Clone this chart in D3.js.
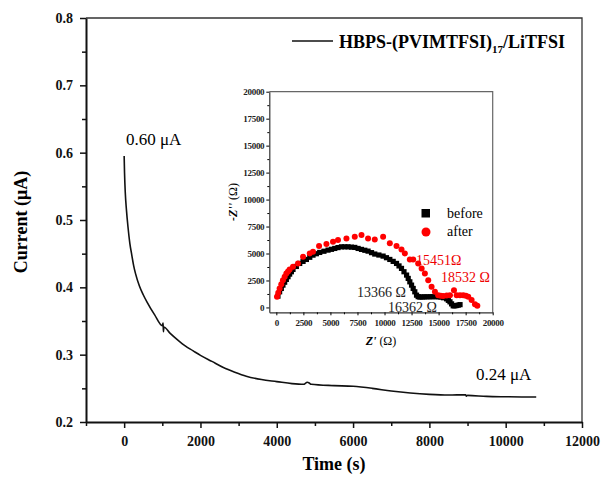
<!DOCTYPE html>
<html>
<head>
<meta charset="utf-8">
<title>chronoamperometry</title>
<script src="https://cdn.jsdelivr.net/npm/d3@7"></script>
<style>
  body { margin: 0; background: #fff; }
  text { font-family: "Liberation Serif", "Times New Roman", serif; }
</style>
</head>
<body>
<script>
// main curve: time (s) vs current (uA)
var time = [0, 10, 30, 60, 100, 150, 200, 250, 300, 400, 500, 600, 800, 1000, 1020, 1030, 1040, 1200, 1400, 1600, 1800, 2000,
  2300, 2600, 2900, 3200, 3600, 4000, 4400, 4700, 4800, 4850, 4900, 5500, 6000, 6500, 7000, 7500, 8000, 8500, 8950, 8970, 9000,
  9500, 10000, 10500, 10800];
var current = [0.595, 0.57, 0.54, 0.515, 0.49, 0.465, 0.448, 0.432, 0.42, 0.402, 0.389, 0.378, 0.359, 0.343, 0.347, 0.334, 0.341,
  0.332, 0.322, 0.313, 0.306, 0.299, 0.29, 0.281, 0.274, 0.268, 0.263, 0.26, 0.257, 0.256, 0.259, 0.258, 0.256, 0.254, 0.253,
  0.25, 0.246, 0.243, 0.241, 0.24, 0.2405, 0.2385, 0.2395, 0.238, 0.2375, 0.2372, 0.2372];

// inset: impedance before / after
var beforeRe = [150, 305, 460, 610, 770, 925, 1080, 1230, 1390, 1540, 1850, 2160, 2470, 2780, 3090, 3390, 3700, 4010, 4400, 4780,
  5100, 5400, 5700, 6020, 6330, 6630, 6940, 7250, 7560, 7870, 8180, 8480, 8800, 9100, 9480, 9870, 10180, 10490, 10800, 11110,
  11340, 11570, 11800, 12040, 12190, 12340, 12500, 12650, 12800, 12960, 13110, 13270, 13500, 13700, 13950, 14200, 14450, 14700,
  14950, 15200, 15450, 15740, 15900, 16050, 16200, 16350, 16500, 16650, 16810, 16980];
var beforeIm = [1050, 1450, 1760, 2070, 2340, 2600, 2850, 3090, 3310, 3525, 3800, 4080, 4270, 4450, 4650, 4850, 4980, 5100, 5210,
  5315, 5390, 5470, 5550, 5620, 5620, 5620, 5590, 5565, 5470, 5380, 5300, 5220, 5080, 4950, 4860, 4760, 4610, 4450, 4270, 4080,
  3850, 3620, 3310, 3000, 2690, 2375, 2070, 1760, 1450, 1140, 1000, 960, 970, 980, 985, 990, 995, 1000, 990, 960, 900, 800, 660,
  520, 330, 150, 150, 180, 210, 260];
var afterRe = [60, 180, 305, 460, 610, 770, 925, 1080, 1230, 1540, 2000, 2470, 3090, 3390, 3950, 4630, 5240, 5700, 6480, 7250,
  7870, 8480, 9100, 9870, 10490, 11110, 11570, 11880, 12340, 12650, 13110, 13430, 13730, 14040, 14350, 14660, 14960, 15200,
  15430, 15750, 16050, 16420, 16670, 16980, 17280, 17520, 17740, 18050, 18360, 18580];
var afterIm = [985, 1370, 1760, 2150, 2530, 2840, 3150, 3340, 3525, 3770, 4080, 4700, 5010, 5160, 5690, 5870, 6090, 6245, 6400,
  6550, 6710, 6400, 6310, 6550, 5940, 5690, 5380, 5010, 4450, 4450, 4080, 3620, 3150, 2530, 1910, 1450, 1140, 1080, 1050, 1100,
  1140, 1600, 1140, 1140, 1140, 1080, 985, 680, 300, 150];

var xTicks = [0, 2000, 4000, 6000, 8000, 10000, 12000];
var xMinor = [-1000, 1000, 3000, 5000, 7000, 9000, 11000];
var yTicks = [0.2, 0.3, 0.4, 0.5, 0.6, 0.7, 0.8];
var yMinor = [0.25, 0.35, 0.45, 0.55, 0.65, 0.75];
var insetTicks = [0, 2500, 5000, 7500, 10000, 12500, 15000, 17500, 20000];
var insetMinor = [1250, 3750, 6250, 8750, 11250, 13750, 16250, 18750];

var W = 603, H = 482;
var svg = d3.select("body").append("svg").attr("width", W).attr("height", H);
svg.append("rect").attr("width", W).attr("height", H).attr("fill", "#fff");

var x = d3.scaleLinear().domain([-1000, 12000]).range([86, 582]);
var y = d3.scaleLinear().domain([0.2, 0.8]).range([422, 18]);

// frame top / right
svg.append("path").attr("d", "M86,18H582V422").attr("fill", "none").attr("stroke", "#333").attr("stroke-width", 1.3);

// axes
var gx = svg.append("g").attr("transform", "translate(0,422)")
  .call(d3.axisBottom(x).tickValues(xTicks).tickSize(6).tickPadding(8).tickSizeOuter(0).tickFormat(d3.format("d")));
svg.append("g").attr("transform", "translate(0,422)")
  .call(d3.axisBottom(x).tickValues(xMinor).tickSize(4).tickSizeOuter(0).tickFormat(""))
  .select(".domain").remove();
var gy = svg.append("g").attr("transform", "translate(86,0)")
  .call(d3.axisLeft(y).tickValues(yTicks).tickSize(6).tickPadding(7).tickSizeOuter(0).tickFormat(d3.format(".1f")));
svg.append("g").attr("transform", "translate(86,0)")
  .call(d3.axisLeft(y).tickValues(yMinor).tickSize(4).tickSizeOuter(0).tickFormat(""))
  .select(".domain").remove();
svg.selectAll(".domain").attr("stroke-width", 2).attr("stroke", "#111");
svg.selectAll(".tick line").attr("stroke-width", 1.5).attr("stroke", "#111");
gx.selectAll("text").attr("font-size", 14).attr("font-weight", "bold").attr("font-family", "Liberation Serif").attr("fill", "#111");
gy.selectAll("text").attr("font-size", 14).attr("font-weight", "bold").attr("font-family", "Liberation Serif").attr("fill", "#111");

// axis titles
svg.append("text").attr("x", 334).attr("y", 470).attr("text-anchor", "middle")
  .attr("font-size", 18).attr("font-weight", "bold").text("Time (s)");
svg.append("text").attr("transform", "translate(27,222) rotate(-90)").attr("text-anchor", "middle")
  .attr("font-size", 18).attr("font-weight", "bold").text("Current (\u03bcA)");

// curve
var line = d3.line().curve(d3.curveMonotoneX)
  .x(function(d, i) { return x(time[i]); }).y(function(d) { return y(d); });
svg.append("path").datum(current).attr("d", line)
  .attr("fill", "none").attr("stroke", "#111").attr("stroke-width", 1.6);

// annotations
svg.append("text").attr("x", 126).attr("y", 145).attr("font-size", 17).text("0.60 \u03bcA");
svg.append("text").attr("x", 476).attr("y", 380).attr("font-size", 17).text("0.24 \u03bcA");

// legend
svg.append("line").attr("x1", 292).attr("x2", 333).attr("y1", 41).attr("y2", 41)
  .attr("stroke", "#111").attr("stroke-width", 1.6);
var lg = svg.append("text").attr("x", 339).attr("y", 48).attr("font-size", 18).attr("font-weight", "bold");
lg.append("tspan").text("HBPS-(PVIMTFSI)");
lg.append("tspan").attr("font-size", 11).attr("dy", 5).text("17");
lg.append("tspan").attr("dy", -5).text("/LiTFSI");

// ---------- inset ----------
var xi = d3.scaleLinear().domain([-650, 20000]).range([269.3, 492.7]);
var yi = d3.scaleLinear().domain([-450, 20000]).range([312.3, 91.7]);

svg.append("rect").attr("x", 269.3).attr("y", 91.7).attr("width", 223.4).attr("height", 220.6).attr("fill", "#fff");
svg.append("path").attr("d", "M269.3,91.7H492.7V312.3").attr("fill", "none").attr("stroke", "#666").attr("stroke-width", 1.2);

var ix = svg.append("g").attr("transform", "translate(0,312.3)")
  .call(d3.axisBottom(xi).tickValues(insetTicks).tickSize(3).tickPadding(4).tickSizeOuter(0).tickFormat(d3.format("d")));
svg.append("g").attr("transform", "translate(0,312.3)")
  .call(d3.axisBottom(xi).tickValues(insetMinor).tickSize(2).tickSizeOuter(0).tickFormat(""))
  .select(".domain").remove();
var iy = svg.append("g").attr("transform", "translate(269.3,0)")
  .call(d3.axisLeft(yi).tickValues(insetTicks).tickSize(3).tickPadding(2).tickSizeOuter(0).tickFormat(d3.format("d")));
svg.append("g").attr("transform", "translate(269.3,0)")
  .call(d3.axisLeft(yi).tickValues(insetMinor).tickSize(2).tickSizeOuter(0).tickFormat(""))
  .select(".domain").remove();
ix.select(".domain").attr("stroke-width", 1.2).attr("stroke", "#333");
iy.select(".domain").attr("stroke-width", 1.2).attr("stroke", "#333");
[ix, iy].forEach(function(g) {
  g.selectAll("text").attr("font-size", 9).attr("font-weight", "bold").attr("font-family", "Liberation Serif")
    .attr("fill", "#222").attr("letter-spacing", -0.3);
});

// inset titles
var it = svg.append("text").attr("x", 381).attr("y", 345).attr("text-anchor", "middle").attr("font-size", 12).attr("font-weight", "bold");
it.append("tspan").attr("font-style", "italic").text("Z'");
it.append("tspan").attr("font-weight", "normal").text(" (\u03a9)");
var iyt = svg.append("text").attr("transform", "translate(237,202) rotate(-90)").attr("text-anchor", "middle")
  .attr("font-size", 12).attr("font-weight", "bold");
iyt.append("tspan").attr("font-style", "italic").text("-Z''");
iyt.append("tspan").attr("font-weight", "normal").text(" (\u03a9)");

// points
svg.append("g").selectAll("rect").data(beforeRe).enter().append("rect")
  .attr("x", function(d) { return xi(d) - 2.6; })
  .attr("y", function(d, i) { return yi(beforeIm[i]) - 2.6; })
  .attr("width", 5.2).attr("height", 5.2).attr("fill", "#000");
svg.append("g").selectAll("circle").data(afterRe).enter().append("circle")
  .attr("cx", function(d) { return xi(d); })
  .attr("cy", function(d, i) { return yi(afterIm[i]); })
  .attr("r", 3).attr("fill", "#f00");

// inset legend
svg.append("rect").attr("x", 421.5).attr("y", 209).attr("width", 8.5).attr("height", 8.5).attr("fill", "#000");
svg.append("text").attr("x", 447).attr("y", 218).attr("font-size", 14).text("before");
svg.append("circle").attr("cx", 426).attr("cy", 232).attr("r", 4.5).attr("fill", "#f00");
svg.append("text").attr("x", 447).attr("y", 236).attr("font-size", 14).text("after");

// inset annotations
svg.append("text").attr("x", 416).attr("y", 265).attr("font-size", 14).attr("fill", "#e00").text("15451\u03a9");
svg.append("text").attr("x", 441).attr("y", 282).attr("font-size", 14).attr("fill", "#e00").text("18532 \u03a9");
svg.append("text").attr("x", 357).attr("y", 297).attr("font-size", 14).attr("fill", "#222").text("13366 \u03a9");
svg.append("text").attr("x", 388).attr("y", 312).attr("font-size", 14).attr("fill", "#222").text("16362 \u03a9");
</script>
</body>
</html>
